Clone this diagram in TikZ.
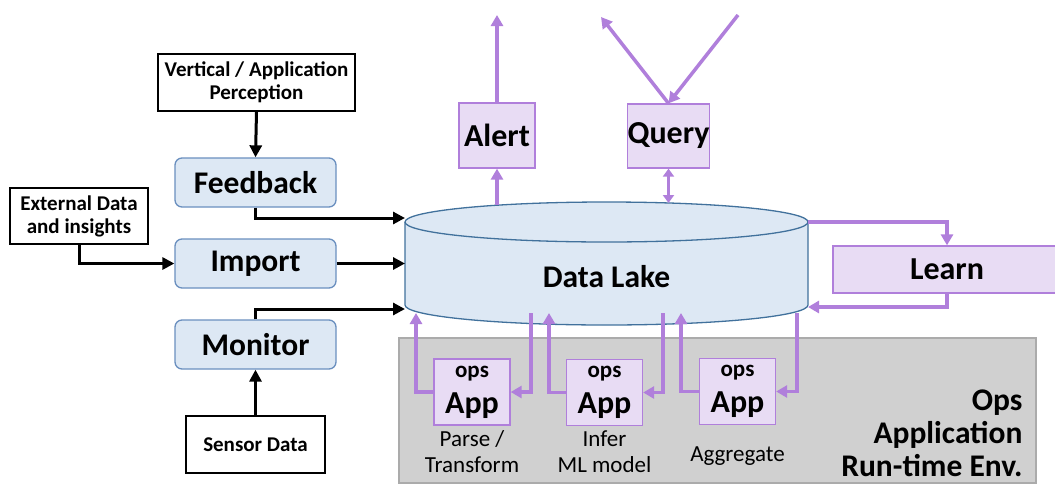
\documentclass[tikz,border=0pt]{standalone}
\usepackage{fontspec}
\setmainfont{Carlito}
\usetikzlibrary{positioning, arrows.meta, calc}
\definecolor{lakefill}{HTML}{DDE8F4}
\definecolor{lakeedge}{HTML}{41719C}
\definecolor{stageedge}{HTML}{6A8FBF}
\definecolor{purpline}{HTML}{B07FDB}
\definecolor{purpfill}{HTML}{E8DCF4}
\definecolor{envfill}{HTML}{D0D0D0}
\definecolor{envedge}{HTML}{ABABAB}

\begin{document}
\begin{tikzpicture}[
  x=1pt, y=-1pt,
  every node/.style={font=\bfseries},
  srcbox/.style={draw=black, line width=2pt, fill=white, align=center,
                 inner sep=0pt, font=\bfseries\fontsize{21}{23}\selectfont},
  stage/.style={draw=stageedge, fill=lakefill, line width=1.3pt, rounded corners=7pt,
                minimum width=161pt, minimum height=49pt, inner sep=0pt,
                font=\bfseries\fontsize{31.5}{34}\selectfont},
  outbox/.style={draw=purpline, fill=purpfill, line width=1.3pt, inner sep=0pt,
                 font=\bfseries\fontsize{32}{34}\selectfont},
  appbox/.style={outbox, minimum width=76pt, minimum height=66pt, align=center},
  caption/.style={font=\fontsize{23}{26}\selectfont, align=center},
  barrow/.style={draw=black, line width=3pt, -{Triangle[length=12pt,width=12pt]}},
  parrow/.style={draw=purpline, line width=3.5pt, -{Triangle[length=11pt,width=12pt]}},
]
  \useasboundingbox (0,0) rectangle (1055,485);

  % run-time environment
  \node[draw=envedge, fill=envfill, line width=1.3pt, minimum width=637pt,
        minimum height=145pt, inner sep=0pt] (env) at (717.5,410.5) {};
  \node[anchor=east, align=right, font=\bfseries\fontsize{31.5}{33}\selectfont]
    (envlabel) at (1026,433) {Ops\\Application\\Run-time Env.};

  % data lake
  \fill[lakefill] (405,222) -- (405,305)
    arc[start angle=180, end angle=360, x radius=201.5pt, y radius=20pt] -- (808,222) -- cycle;
  \draw[lakeedge, line width=1.3pt, fill=lakefill] (606.5,222) ellipse[x radius=201.5pt, y radius=20pt];
  \draw[lakeedge, line width=1.3pt] (405,222) -- (405,305)
    arc[start angle=180, end angle=360, x radius=201.5pt, y radius=20pt] -- (808,222);
  \node[font=\bfseries\fontsize{31.5}{34}\selectfont] (lake) at (606.5,277) {Data Lake};

  % ports on the lake
  \coordinate (inFeed) at (405,218);
  \coordinate (inImp) at (405,263.5);
  \coordinate (inMon) at (405,309);
  \coordinate (topAlert) at (497,205);
  \coordinate (topQuery) at (668.5,203);
  \coordinate (outLearn) at (808,222);
  \coordinate (inLearn) at (808,307);
  \coordinate (upA) at (416,313);
  \coordinate (downA) at (531,313);
  \coordinate (upB) at (549,313);
  \coordinate (downB) at (663,313);
  \coordinate (upC) at (681,313);
  \coordinate (downC) at (797,313);

  % sources and stages
  \node[srcbox, minimum width=197pt, minimum height=57pt] (persp) at (256.5,82.5)
    {Vertical / Application\\Perception};
  \node[srcbox, minimum width=138pt, minimum height=56pt] (ext) at (79,216)
    {External Data\\and insights};
  \node[srcbox, minimum width=139pt, minimum height=57pt] (sensor) at (255.5,444.5)
    {Sensor Data};
  \node[stage] (feedback) at (255.5,182.5) {Feedback};
  \node[stage] (import) at (255.5,263.5) {Import};
  \node[stage] (monitor) at (255.5,344.5) {Monitor};

  % outputs
  \node[outbox, minimum width=76pt, minimum height=65pt] (alert) at (497,135.5) {Alert};
  \node[outbox, minimum width=77pt, minimum height=64pt] (query) at (668.5,136) {Query};
  \node[outbox, minimum width=228pt, minimum height=47pt] (learn) at (947,269.5) {Learn};
  \coordinate (alertEnd) at (497,15);
  \coordinate (queryOut) at (601,17);
  \coordinate (queryIn) at (738,15);

  % ops apps
  \node[appbox] (app1) at (472,392)
    {\fontsize{23}{25}\selectfont ops\\[2pt]\fontsize{32}{34}\selectfont App};
  \node[appbox] (app2) at (604.5,392.5)
    {\fontsize{23}{25}\selectfont ops\\[2pt]\fontsize{32}{34}\selectfont App};
  \node[appbox] (app3) at (737.5,391.5)
    {\fontsize{23}{25}\selectfont ops\\[2pt]\fontsize{32}{34}\selectfont App};
  \node[caption, below=1pt of app1] (cap1) {Parse /\\Transform};
  \node[caption, below=1pt of app2] (cap2) {Infer\\ML model};
  \node[caption] (cap3) at (737.5,456) {Aggregate};

  % black connectors
  \draw[barrow] (persp.south) -- (feedback.north);
  \draw[barrow] (sensor.north) -- (monitor.south);
  \draw[barrow] (ext.south) |- (import.west);
  \draw[barrow] (feedback.south) |- (inFeed);
  \draw[barrow] (import.east) -- (inImp);
  \draw[barrow] (monitor.north) |- (inMon);

  % purple connectors
  \draw[parrow] (topAlert) -- (alert.south);
  \draw[parrow] (alert.north) -- (alertEnd);
  \draw[draw=purpline, line width=3.5pt,
        {Triangle[length=8pt,width=11pt]}-{Triangle[length=8pt,width=11pt]}]
    (query.south) -- (topQuery);
  \draw[parrow] (query.north) -- (queryOut);
  \draw[parrow] (queryIn) -- (query.north);
  \draw[parrow] (outLearn) -| (learn.north);
  \draw[parrow] (learn.south) |- (inLearn);
  \draw[parrow] (app1.west) -| (upA);
  \draw[parrow] (downA) |- (app1.east);
  \draw[parrow] (app2.west) -| (upB);
  \draw[parrow] (downB) |- (app2.east);
  \draw[parrow] (app3.west) -| (upC);
  \draw[parrow] (downC) |- (app3.east);
\end{tikzpicture}
\end{document}
